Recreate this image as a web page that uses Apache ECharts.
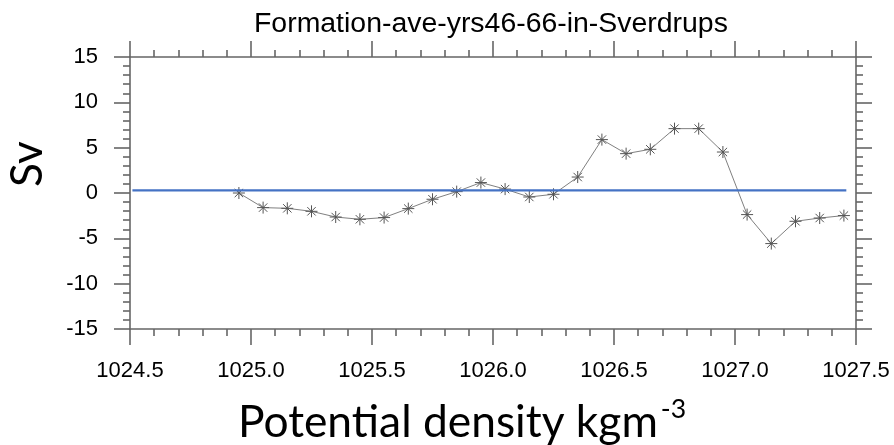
<!DOCTYPE html>
<html><head><meta charset="utf-8">
<script src="https://cdn.jsdelivr.net/npm/echarts@6/dist/echarts.min.js"></script>
<style>html,body{margin:0;padding:0;background:#fff}#c{width:894px;height:445px}</style>
</head><body><div id="c"></div>
<script>
const titleText = 'Formation-ave-yrs46-66-in-Sverdrups';
const xAxisTitle = 'Potential density kgm';
const xAxisTitleSup = '-3';
const yAxisTitle = 'Sv';
const density = [1024.95, 1025.05, 1025.15, 1025.25, 1025.35, 1025.45, 1025.55, 1025.65, 1025.75, 1025.85,
                 1025.95, 1026.05, 1026.15, 1026.25, 1026.35, 1026.45, 1026.55, 1026.65, 1026.75, 1026.85,
                 1026.95, 1027.05, 1027.15, 1027.25, 1027.35, 1027.45];
const formationSv = [0.0, -1.61, -1.69, -2.02, -2.65, -2.90, -2.71, -1.72, -0.69, 0.15,
                     1.15, 0.43, -0.44, -0.14, 1.76, 5.89, 4.34, 4.82, 7.10, 7.10,
                     4.52, -2.38, -5.58, -3.12, -2.76, -2.49];
const refLineX = [1024.51, 1027.46];
const refLineY = [0.3, 0.3];
const xRange = [1024.5, 1027.5];
const yRange = [-15, 15];
const xStep = 0.5;
const yStep = 5;

const ctx = document.createElement('canvas').getContext('2d');
function metrics(txt, fam, size) {
  ctx.font = size + 'px "' + fam + '"';
  ctx.textBaseline = 'middle';
  return ctx.measureText(txt);
}
const TFAM = 'Liberation Sans', NFAM = 'Lato';
const titleSize = 28 * 474 / metrics(titleText, TFAM, 28).width;
const nameSize = 44 * 420 / metrics(xAxisTitle, NFAM, 44).width;
const supSize = nameSize * 0.6;
const svSize = nameSize;
const kName = metrics('x', NFAM, nameSize).actualBoundingBoxDescent;
const kSup = metrics('3', NFAM, supSize).actualBoundingBoxDescent;
const kSv = metrics('x', NFAM, svSize).actualBoundingBoxDescent;
const titleAsc = metrics('F', TFAM, titleSize).actualBoundingBoxAscent;
const mainW = metrics(xAxisTitle, NFAM, nameSize).width;
const titleCenterY = 13 + titleAsc;

const frame = { color: '#666666', width: 1.6 };
const pairs = density.map((d, i) => [d, formationSv[i]]);
const refPairs = refLineX.map((d, i) => [d, refLineY[i]]);

function xAxisCfg(pos, showLabel) {
  return {
    type: 'value', position: pos, min: xRange[0], max: xRange[1], interval: xStep,
    axisLine: { show: true, onZero: false, lineStyle: frame },
    axisTick: { show: true, length: 16, lineStyle: frame },
    minorTick: { show: true, splitNumber: 5, length: 7, lineStyle: frame },
    splitLine: { show: false }, minorSplitLine: { show: false },
    axisLabel: { show: showLabel, margin: 31, fontSize: 22, lineHeight: 22, color: '#000',
      fontFamily: TFAM, formatter: v => v.toFixed(1) }
  };
}
function yAxisCfg(pos, showLabel) {
  return {
    type: 'value', position: pos, min: yRange[0], max: yRange[1], interval: yStep,
    axisLine: { show: true, onZero: false, lineStyle: frame },
    axisTick: { show: true, length: 16, lineStyle: frame },
    minorTick: { show: true, splitNumber: 5, length: 7, lineStyle: frame },
    splitLine: { show: false }, minorSplitLine: { show: false },
    axisLabel: { show: showLabel, margin: 32, fontSize: 22, lineHeight: 22, color: '#000',
      fontFamily: TFAM }
  };
}

const chart = echarts.init(document.getElementById('c'), null, { renderer: 'canvas' });
chart.setOption({
  animation: false,
  backgroundColor: '#fff',
  title: {
    text: titleText, left: 254, top: titleCenterY - titleSize / 2, padding: 0,
    textStyle: { fontFamily: TFAM, fontSize: titleSize, lineHeight: titleSize, fontWeight: 'normal', color: '#000' }
  },
  grid: { left: 130, right: 38, top: 57, bottom: 116, containLabel: false },
  xAxis: [xAxisCfg('bottom', true), xAxisCfg('top', false)],
  yAxis: [yAxisCfg('left', true), yAxisCfg('right', false)],
  series: [
    {
      type: 'line', xAxisIndex: 0, yAxisIndex: 0, data: pairs,
      symbol: 'path://M10,0L10,20M0,10L20,10M3,3L17,17M3,17L17,3',
      symbolSize: 12,
      itemStyle: { color: 'rgba(0,0,0,0)', borderColor: '#555', borderWidth: 1 },
      lineStyle: { color: '#808080', width: 1 },
      z: 2
    },
    {
      type: 'line', xAxisIndex: 0, yAxisIndex: 0, data: refPairs,
      symbol: 'none', lineStyle: { color: '#4472C4', width: 2.2 }, z: 3
    }
  ],
  graphic: [
    { type: 'text', x: 238, y: 437 - kName, z: 10,
      style: { text: xAxisTitle, fontFamily: NFAM, fontSize: nameSize, fill: '#000', align: 'left', verticalAlign: 'middle' } },
    { type: 'text', x: 238 + mainW + 3, y: 418 - kSup, z: 10,
      style: { text: xAxisTitleSup, fontFamily: NFAM, fontSize: supSize, fill: '#000', align: 'left', verticalAlign: 'middle' } },
    { type: 'text', x: 42 - kSv, y: 164, rotation: Math.PI / 2, z: 10,
      style: { text: yAxisTitle, fontFamily: NFAM, fontSize: svSize, fill: '#000', align: 'center', verticalAlign: 'middle' } }
  ]
});
</script></body></html>
